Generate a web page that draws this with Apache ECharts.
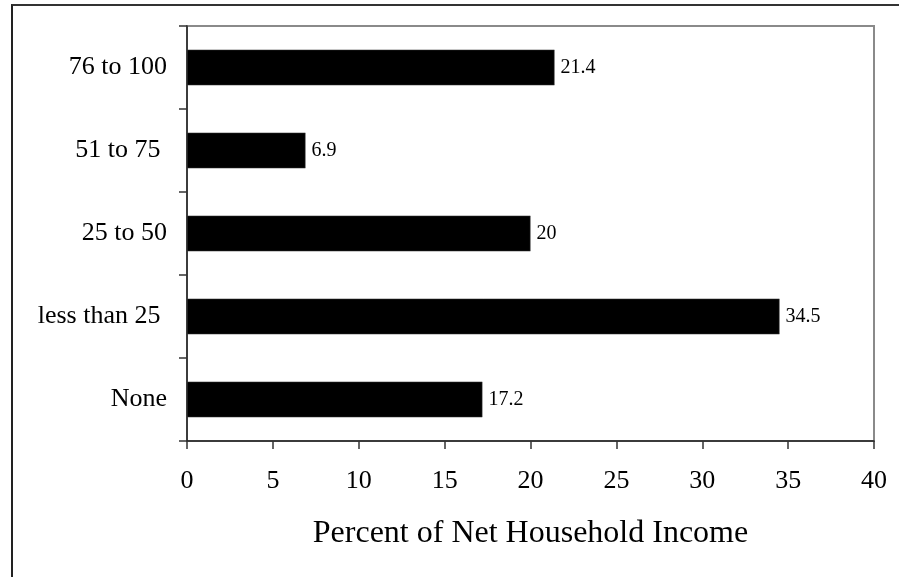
<!DOCTYPE html>
<html>
<head>
<meta charset="utf-8">
<script src="https://cdn.jsdelivr.net/npm/echarts@6/dist/echarts.min.js"></script>
<style>
  html, body { margin: 0; padding: 0; background: #fff; }
  #chart { position: absolute; left: 0; top: 0; width: 899px; height: 577px; }
  #frame {
    position: absolute; left: 11px; top: 4px; width: 888px; height: 573px;
    border-top: 2px solid #333; border-left: 2px solid #222;
    box-sizing: border-box; pointer-events: none;
  }
</style>
</head>
<body>
<div id="chart"></div>
<div id="frame"></div>
<script>
// Share of net household income, by band (bottom to top)
const categories = ['None', 'less than 25 ', '25 to 50', '51 to 75 ', '76 to 100'];
const percents = [17.2, 34.5, 20, 6.9, 21.4];
const xTicks = { min: 0, max: 40, step: 5 };
const xAxisTitle = 'Percent of Net Household Income';

const serif = "'Liberation Serif', 'Times New Roman', serif";

const chart = echarts.init(document.getElementById('chart'), null, { renderer: 'canvas' });
chart.setOption({
  animation: false,
  backgroundColor: 'transparent',
  grid: {
    left: 187, right: 25, top: 26, bottom: 136,
    show: true, borderColor: '#8a8a8a', borderWidth: 2, backgroundColor: 'transparent'
  },
  xAxis: {
    type: 'value',
    min: xTicks.min, max: xTicks.max, interval: xTicks.step,
    name: xAxisTitle,
    nameLocation: 'middle',
    nameGap: 77,
    nameTextStyle: { fontFamily: serif, fontSize: 32, color: '#000' },
    axisLine: { show: true, lineStyle: { color: '#222', width: 1.5 } },
    axisTick: { show: true, inside: false, length: 8, lineStyle: { color: '#333', width: 1.5 } },
    splitLine: { show: false },
    axisLabel: { fontFamily: serif, fontSize: 26, color: '#000', margin: 27 }
  },
  yAxis: {
    type: 'category',
    data: categories,
    axisLine: { show: true, lineStyle: { color: '#222', width: 1.5 } },
    axisTick: { show: true, inside: false, length: 8, lineStyle: { color: '#333', width: 1.5 } },
    axisLabel: { fontFamily: serif, fontSize: 26, color: '#000', margin: 20 },
    splitLine: { show: false }
  },
  series: [{
    type: 'bar',
    data: percents,
    barWidth: '43%',
    itemStyle: { color: '#000', borderColor: '#444', borderWidth: 0.5 },
    label: {
      show: true, position: 'right', distance: 6,
      fontFamily: serif, fontSize: 20, color: '#000'
    }
  }]
});
</script>
</body>
</html>
